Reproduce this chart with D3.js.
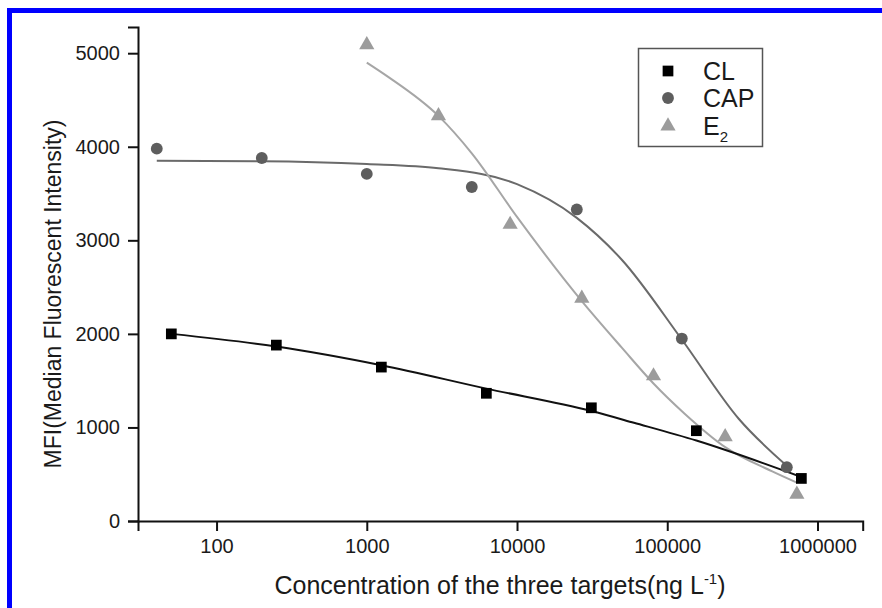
<!DOCTYPE html>
<html>
<head>
<meta charset="utf-8">
<script src="https://cdn.jsdelivr.net/npm/d3@7"></script>
<style>
	body { margin: 0; background: #fff; }
	svg text { font-family: "Liberation Sans", Arial, sans-serif; fill: #1a1a1a; }
</style>
</head>
<body>
<div id="chart"></div>
<script>

// measured points (concentration in ng/L, MFI)
var clConc = [50, 250, 1250, 6250, 31250, 156250, 781250];
var clMFI = [2000, 1880, 1645, 1365, 1210, 965, 455];
var capConc = [40, 200, 1000, 5000, 25000, 125000, 625000];
var capMFI = [3980, 3880, 3710, 3570, 3330, 1950, 575];
var e2Conc = [1000, 3000, 9000, 27000, 81000, 243000, 729000];
var e2MFI = [5090, 4330, 3170, 2380, 1550, 900, 285];

// fitted curves
var clFitConc = [50, 250, 1250, 6250, 31250, 60000, 156250, 781250];
var clFitMFI = [2000, 1865, 1665, 1415, 1175, 1050, 860, 470];
var capFitConc = [40, 200, 1000, 3000, 10000, 25000, 50000, 125000, 300000, 625000];
var capFitMFI = [3850, 3845, 3815, 3770, 3600, 3240, 2790, 1940, 1090, 590];
var e2FitConc = [1000, 1380, 3000, 5000, 10000, 27000, 50000, 81000, 130000, 243000, 500000, 729000];
var e2FitMFI = [4900, 4750, 4330, 3930, 3250, 2350, 1850, 1470, 1150, 790, 530, 410];

// axis ticks
var xMajorTicks = [100, 1000, 10000, 100000, 1000000];
var yMajorTicks = [0, 1000, 2000, 3000, 4000, 5000];
var yMinorTicks = [500, 1500, 2500, 3500, 4500];

var seriesNames = ["CL", "CAP", "E2"];

var width = 882, height = 608;

var svg = d3.select("#chart").append("svg")
	.attr("width", width)
	.attr("height", height);

// blue frame round the figure
svg.append("rect")
	.attr("x", 9.5)
	.attr("y", 10.5)
	.attr("width", 1000)
	.attr("height", 1000)
	.attr("fill", "none")
	.attr("stroke", "#0000ff")
	.attr("stroke-width", 5);

var x = d3.scaleLog().domain([30, 2000000]).range([138, 862.7]);
var y = d3.scaleLinear().domain([0, 5280]).range([521, 27]);

// minor x ticks: 2..9 times every decade inside the domain
var xMinorTicks = [];
[10, 100, 1000, 10000, 100000, 1000000].forEach(function(d) {
	for (var k = 2; k <= 9; k++) {
		var v = d * k;
		if (v >= 30 && v <= 2000000) xMinorTicks.push(v);
	}
});

// bottom axis
var xAxisG = svg.append("g").attr("transform", "translate(0," + y(0) + ")");
xAxisG.call(d3.axisBottom(x).tickValues(xMinorTicks).tickSize(5).tickFormat(""));
xAxisG.call(d3.axisBottom(x).tickValues(xMajorTicks).tickSize(10).tickPadding(8)
	.tickFormat(d3.format("d")));

// left axis
var yAxisG = svg.append("g").attr("transform", "translate(" + x(30) + ",0)");
yAxisG.call(d3.axisLeft(y).tickValues(yMinorTicks).tickSize(6).tickFormat(""));
yAxisG.call(d3.axisLeft(y).tickValues(yMajorTicks).tickSize(10).tickPadding(8)
	.tickFormat(d3.format("d")));

svg.selectAll(".domain")
	.attr("stroke", "#111")
	.attr("stroke-width", 2);
svg.selectAll(".tick line")
	.attr("stroke", "#111")
	.attr("stroke-width", 2);
svg.selectAll(".tick text")
	.attr("font-size", 20)
	.attr("fill", "#1a1a1a");

// axis titles
var xTitle = svg.append("text")
	.attr("x", 500)
	.attr("y", 594)
	.attr("text-anchor", "middle")
	.attr("font-size", 25);
xTitle.append("tspan").text("Concentration of the three targets(ng L");
xTitle.append("tspan").attr("dy", -10).attr("font-size", 15).text("-1");
xTitle.append("tspan").attr("dy", 10).text(")");

svg.append("text")
	.attr("transform", "translate(61,294) rotate(-90)")
	.attr("text-anchor", "middle")
	.attr("font-size", 23)
	.text("MFI(Median Fluorescent Intensity)");

// fitted lines
var line = d3.line()
	.x(function(d) { return x(d[0]); })
	.y(function(d) { return y(d[1]); })
	.curve(d3.curveMonotoneX);

var fits = [
	{ conc: capFitConc, mfi: capFitMFI, color: "#6a6a6a" },
	{ conc: e2FitConc, mfi: e2FitMFI, color: "#a6a6a6" },
	{ conc: clFitConc, mfi: clFitMFI, color: "#111" }
];

fits.forEach(function(f) {
	svg.append("path")
		.datum(d3.zip(f.conc, f.mfi))
		.attr("d", line)
		.attr("fill", "none")
		.attr("stroke", f.color)
		.attr("stroke-width", 2);
});

// point markers
var symSquare = d3.symbol().type(d3.symbolSquare).size(115);
var symCircle = d3.symbol().type(d3.symbolCircle).size(110);
var symTriangle = d3.symbol().type(d3.symbolTriangle).size(100);

function drawPoints(conc, mfi, sym, color) {
	svg.append("g").selectAll("path")
		.data(d3.zip(conc, mfi))
		.enter()
		.append("path")
		.attr("d", sym)
		.attr("transform", function(d) { return "translate(" + x(d[0]) + "," + y(d[1]) + ")"; })
		.attr("fill", color);
}

drawPoints(capConc, capMFI, symCircle, "#5e5e5e");
drawPoints(e2Conc, e2MFI, symTriangle, "#9c9c9c");
drawPoints(clConc, clMFI, symSquare, "#000");

// legend
var legend = svg.append("g");
legend.append("rect")
	.attr("x", 638.5)
	.attr("y", 48.5)
	.attr("width", 124)
	.attr("height", 98)
	.attr("fill", "#fff")
	.attr("stroke", "#555")
	.attr("stroke-width", 1.5);

var legendSyms = [symSquare, symCircle, symTriangle];
var legendColors = ["#000", "#5e5e5e", "#9c9c9c"];
var legendRows = [71, 98, 126];

seriesNames.forEach(function(name, i) {
	legend.append("path")
		.attr("d", legendSyms[i])
		.attr("transform", "translate(668," + legendRows[i] + ")")
		.attr("fill", legendColors[i]);

	var t = legend.append("text")
		.attr("x", 703)
		.attr("y", legendRows[i] + 9)
		.attr("font-size", 25);
	if (name == "E2") {
		t.append("tspan").text("E");
		t.append("tspan").attr("dy", 7).attr("font-size", 15).text("2");
	} else {
		t.text(name);
	}
});

</script>
</body>
</html>
